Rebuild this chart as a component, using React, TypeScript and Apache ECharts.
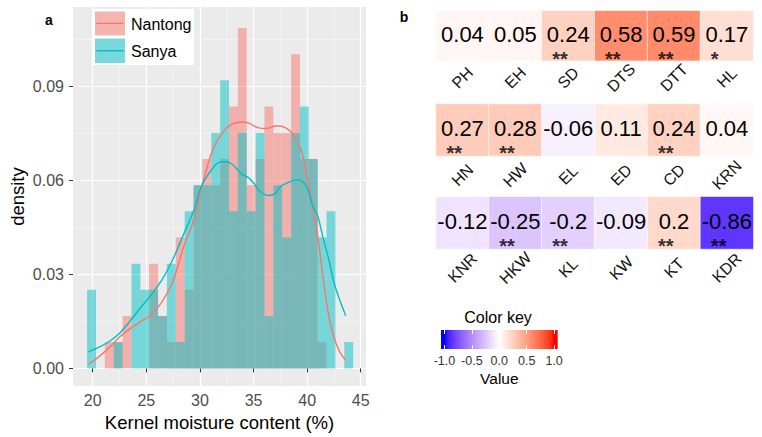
import React, { useEffect, useRef } from 'react';
import * as echarts from 'echarts';

const FONT = 'Liberation Sans, Arial, Helvetica, sans-serif';

// ---------- Panel a: histogram + density ----------
const binCenters = [19.89, 20.72, 21.54, 22.37, 23.2, 24.03, 24.85, 25.68, 26.51, 27.33, 28.16, 28.99, 29.82, 30.64, 31.47, 32.3, 33.13, 33.95, 34.78, 35.61, 36.43, 37.26, 38.09, 38.92, 39.74, 40.57, 41.4, 42.22, 43.05, 43.88];
const binWidth = 0.827;
const nantongHist = [0, 0, 0.0084, 0.0084, 0.0167, 0, 0, 0.0334, 0.0167, 0.0084, 0.0418, 0.0251, 0.0585, 0.0669, 0.0585, 0.0669, 0.0836, 0.1087, 0.0585, 0.0669, 0.0836, 0.0752, 0.0752, 0.1003, 0.0669, 0.0669, 0.0084, 0, 0, 0];
const sanyaHist = [0.0251, 0, 0, 0.0084, 0, 0.0334, 0.0251, 0.0251, 0.0167, 0.0334, 0.0084, 0.0502, 0.0585, 0.0585, 0.0752, 0.092, 0.0502, 0.0752, 0.0502, 0.0752, 0.0167, 0.0585, 0.0418, 0.0752, 0.0836, 0.0669, 0.0418, 0.0502, 0, 0.0084];

const curveX = [19.6, 20.5, 21.5, 22.5, 23.5, 24.5, 25.5, 26.5, 27.5, 28.5, 29.5, 30.0, 30.5, 31.0, 31.5, 32.0, 32.5, 33.0, 33.5, 34.0, 34.5, 35.0, 35.5, 36.0, 36.5, 37.0, 37.5, 38.0, 38.5, 39.0, 39.5, 40.0, 40.5, 41.0, 41.5, 42.0, 42.5, 43.0, 43.6];
const nantongCurve = [0.0013, 0.0035, 0.0065, 0.01, 0.0127, 0.015, 0.0172, 0.0215, 0.028, 0.039, 0.048, 0.056, 0.062, 0.068, 0.072, 0.0746, 0.0768, 0.078, 0.0785, 0.0787, 0.0784, 0.0775, 0.0768, 0.0766, 0.0768, 0.0774, 0.0774, 0.0768, 0.0755, 0.073, 0.069, 0.061, 0.052, 0.042, 0.0285, 0.017, 0.01, 0.0055, 0.0025];
const sanyaCurve = [0.0053, 0.0066, 0.0085, 0.0112, 0.0152, 0.0195, 0.0237, 0.0285, 0.035, 0.043, 0.051, 0.057, 0.0605, 0.063, 0.0652, 0.066, 0.066, 0.0652, 0.0635, 0.0618, 0.061, 0.0592, 0.0568, 0.0556, 0.0552, 0.0558, 0.058, 0.059, 0.0598, 0.0602, 0.0598, 0.0578, 0.052, 0.0485, 0.0415, 0.035, 0.0275, 0.0222, 0.0168];

const xTicks = [20, 25, 30, 35, 40, 45];
const xTickLabels = ['20', '25', '30', '35', '40', '45'];
const xMinor = [22.5, 27.5, 32.5, 37.5, 42.5];
const yTicks = [0, 0.03, 0.06, 0.09];
const yTickLabels = ['0.00', '0.03', '0.06', '0.09'];
const yMinor = [0.015, 0.045, 0.075, 0.105];

// ---------- Panel b: correlation tiles ----------
const row1Names = ['PH', 'EH', 'SD', 'DTS', 'DTT', 'HL'];
const row1Values = [0.04, 0.05, 0.24, 0.58, 0.59, 0.17];
const row1Sig = ['', '', '**', '**', '**', '*'];
const row2Names = ['HN', 'HW', 'EL', 'ED', 'CD', 'KRN'];
const row2Values = [0.27, 0.28, -0.06, 0.11, 0.24, 0.04];
const row2Sig = ['**', '**', '', '', '**', ''];
const row3Names = ['KNR', 'HKW', 'KL', 'KW', 'KT', 'KDR'];
const row3Values = [-0.12, -0.25, -0.2, -0.09, 0.2, -0.86];
const row3Sig = ['', '**', '**', '', '**', '**'];
const keyTicks = [-1, -0.5, 0, 0.5, 1];
const keyLabels = ['-1.0', '-0.5', '0.0', '0.5', '1.0'];

// ---------- Lab colour interpolation (ggplot gradient2 style) ----------
function lin(c: number) { c /= 255; return c <= 0.04045 ? c / 12.92 : Math.pow((c + 0.055) / 1.055, 2.4); }
function rgbToLab(rgb: number[]) {
  const R = lin(rgb[0]), G = lin(rgb[1]), B = lin(rgb[2]);
  const X = (0.4124 * R + 0.3576 * G + 0.1805 * B) / 0.95047;
  const Y = 0.2126 * R + 0.7152 * G + 0.0722 * B;
  const Z = (0.0193 * R + 0.1192 * G + 0.9505 * B) / 1.08883;
  const f = (t: number) => (t > 0.008856 ? Math.cbrt(t) : 7.787 * t + 16 / 116);
  const fx = f(X), fy = f(Y), fz = f(Z);
  return [116 * fy - 16, 500 * (fx - fy), 200 * (fy - fz)];
}
function labToHex(lab: number[]) {
  const fy = (lab[0] + 16) / 116, fx = fy + lab[1] / 500, fz = fy - lab[2] / 200;
  const finv = (t: number) => (t * t * t > 0.008856 ? t * t * t : (t - 16 / 116) / 7.787);
  const X = 0.95047 * finv(fx), Y = finv(fy), Z = 1.08883 * finv(fz);
  const r = 3.2406 * X - 1.5372 * Y - 0.4986 * Z;
  const g = -0.9689 * X + 1.8758 * Y + 0.0415 * Z;
  const b = 0.0557 * X - 0.204 * Y + 1.057 * Z;
  const gam = (c: number) => {
    c = Math.max(0, Math.min(1, c));
    const v = c <= 0.0031308 ? 12.92 * c : 1.055 * Math.pow(c, 1 / 2.4) - 0.055;
    return Math.round(Math.max(0, Math.min(1, v)) * 255);
  };
  return '#' + [gam(r), gam(g), gam(b)].map((v) => v.toString(16).padStart(2, '0')).join('');
}
const LAB_BLUE = rgbToLab([0, 0, 255]);
const LAB_WHITE = rgbToLab([255, 255, 255]);
const LAB_RED = rgbToLab([255, 0, 0]);
function valueColor(v: number) {
  const end = v < 0 ? LAB_BLUE : LAB_RED;
  const t = Math.min(1, Math.abs(v));
  return labToHex([0, 1, 2].map((i) => LAB_WHITE[i] + t * (end[i] - LAB_WHITE[i])));
}
const colorSteps: number[] = [];
for (let i = 0; i <= 40; i++) colorSteps.push(-1 + i * 0.05);
const colorStops = colorSteps.map(valueColor);

function tickFormatter(ticks: number[], labels: string[]) {
  return (v: number) => {
    const i = ticks.findIndex((t) => Math.abs(t - v) < 1e-9);
    return i >= 0 ? labels[i] : '';
  };
}

function histSeries(name: string, dens: number[], color: string) {
  return {
    type: 'custom',
    name,
    xAxisIndex: 0,
    yAxisIndex: 0,
    clip: true,
    silent: true,
    data: binCenters.map((c, i) => [c, dens[i]]),
    encode: { x: 0, y: 1 },
    renderItem: (params: any, api: any) => {
      const x = api.value(0);
      const y = api.value(1);
      if (!(y > 0)) return null;
      const p0 = api.coord([x - binWidth / 2, y]);
      const p1 = api.coord([x + binWidth / 2, 0]);
      return {
        type: 'rect',
        shape: { x: p0[0], y: p0[1], width: p1[0] - p0[0], height: p1[1] - p0[1] },
        style: { fill: color, opacity: 0.5 },
      };
    },
  };
}

function lineSeries(name: string, ys: number[], color: string) {
  return {
    type: 'line',
    name,
    xAxisIndex: 0,
    yAxisIndex: 0,
    silent: true,
    smooth: 0.3,
    showSymbol: false,
    symbol: 'none',
    data: curveX.map((x, i) => [x, ys[i]]),
    lineStyle: { color, width: 1.4 },
    z: 5,
  };
}

const rowGrids = [
  { left: 436, top: 10.7, width: 317.3, height: 50 },
  { left: 436, top: 104, width: 317.3, height: 52 },
  { left: 436, top: 196.7, width: 317.3, height: 52.3 },
];
const rowLabelMargins = [17, 19, 19];
const rows = [
  { names: row1Names, values: row1Values, sig: row1Sig },
  { names: row2Names, values: row2Values, sig: row2Sig },
  { names: row3Names, values: row3Values, sig: row3Sig },
];

function buildOption() {
  const grids: any[] = [
    { left: 73, top: 7, width: 293, height: 385, show: true, backgroundColor: '#EBEBEB', borderWidth: 0 },
    ...rowGrids.map((g) => ({ ...g, show: false })),
    { left: 441, top: 330, width: 116.7, height: 19, show: false },
  ];

  const xAxes: any[] = [
    {
      type: 'value', gridIndex: 0, min: 18.16, max: 45.49,
      axisLine: { show: false },
      axisTick: { show: true, customValues: xTicks, length: 4, lineStyle: { color: '#333', width: 1 } },
      axisLabel: { customValues: xTicks, formatter: tickFormatter(xTicks, xTickLabels), margin: 6, fontSize: 16, color: '#4D4D4D', fontFamily: FONT },
      splitLine: { show: true, lineStyle: { color: '#FFFFFF', width: 1.2 } },
      name: 'Kernel moisture content (%)', nameLocation: 'middle', nameGap: 12,
      nameTextStyle: { fontSize: 18.5, color: '#000', fontFamily: FONT },
    },
    {
      type: 'value', gridIndex: 0, min: 18.16, max: 45.49, position: 'top',
      axisLine: { show: false },
      axisTick: { show: false, customValues: xMinor },
      axisLabel: { show: false, customValues: xMinor },
      splitLine: { show: true, lineStyle: { color: '#F7F7F7', width: 0.6 } },
    },
  ];
  const yAxes: any[] = [
    {
      type: 'value', gridIndex: 0, min: -0.00566, max: 0.1154,
      axisLine: { show: false },
      axisTick: { show: true, customValues: yTicks, length: 4, lineStyle: { color: '#333', width: 1 } },
      axisLabel: { customValues: yTicks, formatter: tickFormatter(yTicks, yTickLabels), margin: 9, fontSize: 16, color: '#4D4D4D', fontFamily: FONT },
      splitLine: { show: true, lineStyle: { color: '#FFFFFF', width: 1.2 } },
      name: 'density', nameLocation: 'middle', nameGap: 46,
      nameTextStyle: { fontSize: 18.5, color: '#000', fontFamily: FONT },
    },
    {
      type: 'value', gridIndex: 0, min: -0.00566, max: 0.1154, position: 'right',
      axisLine: { show: false },
      axisTick: { show: false, customValues: yMinor },
      axisLabel: { show: false, customValues: yMinor },
      splitLine: { show: true, lineStyle: { color: '#F7F7F7', width: 0.6 } },
    },
  ];

  rows.forEach((r, i) => {
    xAxes.push({
      type: 'category', gridIndex: i + 1, data: r.names,
      axisLine: { show: false }, axisTick: { show: false }, splitLine: { show: false },
      axisLabel: { interval: 0, rotate: 45, align: 'center', margin: rowLabelMargins[i], fontSize: 16, color: '#111', fontFamily: FONT },
    });
    yAxes.push({ type: 'category', gridIndex: i + 1, data: ['r'], show: false });
  });

  // colour key axes
  xAxes.push({
    type: 'value', gridIndex: 4, min: -1.063, max: 1.065, z: 10,
    axisLine: { show: false },
    axisTick: { show: true, inside: true, customValues: keyTicks, length: 4, lineStyle: { color: '#FFFFFF', width: 1 } },
    axisLabel: { customValues: keyTicks, formatter: tickFormatter(keyTicks, keyLabels), margin: 5, fontSize: 12.5, color: '#333', fontFamily: FONT },
    splitLine: { show: false },
    name: 'Value', nameLocation: 'middle', nameGap: 21,
    nameTextStyle: { fontSize: 15.5, color: '#000', fontFamily: FONT },
  });
  xAxes.push({
    type: 'value', gridIndex: 4, min: -1.063, max: 1.065, position: 'top', z: 10,
    axisLine: { show: false },
    axisTick: { show: true, inside: true, customValues: keyTicks, length: 4, lineStyle: { color: '#FFFFFF', width: 1 } },
    axisLabel: { show: false, customValues: keyTicks },
    splitLine: { show: false },
  });
  yAxes.push({ type: 'value', gridIndex: 4, min: 0, max: 1, show: false });

  const series: any[] = [
    histSeries('Nantong', nantongHist, '#F8766D'),
    histSeries('Sanya', sanyaHist, '#00BFC4'),
    lineSeries('Nantong density', nantongCurve, '#F8766D'),
    lineSeries('Sanya density', sanyaCurve, '#00BFC4'),
  ];
  const heatIdx: number[] = [];
  rows.forEach((r, i) => {
    heatIdx.push(series.length);
    series.push({
      type: 'heatmap', xAxisIndex: i + 2, yAxisIndex: i + 2, silent: true,
      data: r.values.map((v, j) => [j, 0, v]),
      itemStyle: { borderColor: '#FFFFFF', borderWidth: 0.6 },
      label: {
        show: true, fontSize: 22, lineHeight: 22, color: '#000', fontFamily: FONT, offset: [0, -1.5],
        formatter: (p: any) => String(p.value[2]),
      },
    });
  });
  rows.forEach((r, i) => {
    series.push({
      type: 'scatter', xAxisIndex: i + 2, yAxisIndex: i + 2, silent: true,
      symbol: 'circle', symbolSize: 2, itemStyle: { color: 'rgba(0,0,0,0)' }, z: 6,
      data: r.sig.map((s, j) => ({ value: [j, 0], name: s })).filter((d) => d.name),
      label: {
        show: true, position: 'inside', formatter: (p: any) => p.name,
        align: 'left', verticalAlign: 'middle', offset: [-16, 23], lineHeight: 12,
        fontSize: 20, fontWeight: 'bold', color: '#000', fontFamily: FONT,
      },
    });
  });
  series.push({
    type: 'custom', xAxisIndex: 6, yAxisIndex: 5, silent: true,
    data: [[0, 0.5]],
    renderItem: (params: any, api: any) => {
      const cs = params.coordSys;
      const stops = colorSteps.map((v, k) => ({
        offset: Math.max(0, Math.min(1, (api.coord([v, 0.5])[0] - cs.x) / cs.width)),
        color: colorStops[k],
      }));
      return {
        type: 'rect',
        shape: { x: cs.x, y: cs.y, width: cs.width, height: cs.height },
        style: { fill: new echarts.graphic.LinearGradient(0, 0, 1, 0, stops) },
      };
    },
  });

  const graphic: any[] = [
    { type: 'text', x: 49, y: 19.5, z: 100, style: { text: 'a', fontSize: 14, fontWeight: 'bold', fontFamily: FONT, fill: '#000', align: 'center', verticalAlign: 'middle' } },
    { type: 'text', x: 404, y: 17, z: 100, style: { text: 'b', fontSize: 14, fontWeight: 'bold', fontFamily: FONT, fill: '#000', align: 'center', verticalAlign: 'middle' } },
    // legend
    { type: 'rect', z: 100, shape: { x: 93, y: 9, width: 101, height: 56 }, style: { fill: '#FFFFFF' } },
    { type: 'rect', z: 101, shape: { x: 95, y: 11.5, width: 30, height: 24 }, style: { fill: '#F5B5AF' } },
    { type: 'line', z: 102, shape: { x1: 96.5, y1: 23.4, x2: 123.5, y2: 23.4 }, style: { stroke: '#F8766D', lineWidth: 1.4 } },
    { type: 'rect', z: 101, shape: { x: 95, y: 38.5, width: 30, height: 24.5 }, style: { fill: '#79D8DB' } },
    { type: 'line', z: 102, shape: { x1: 96.5, y1: 50.7, x2: 123.5, y2: 50.7 }, style: { stroke: '#00BFC4', lineWidth: 1.4 } },
    { type: 'text', x: 131, y: 24, z: 102, style: { text: 'Nantong', fontSize: 16, fontFamily: FONT, fill: '#000', align: 'left', verticalAlign: 'middle' } },
    { type: 'text', x: 131, y: 51, z: 102, style: { text: 'Sanya', fontSize: 16, fontFamily: FONT, fill: '#000', align: 'left', verticalAlign: 'middle' } },
    // colour key title
    { type: 'text', x: 498, y: 317, z: 100, style: { text: 'Color key', fontSize: 16, fontFamily: FONT, fill: '#000', align: 'center', verticalAlign: 'middle' } },
  ];

  return {
    animation: false,
    backgroundColor: '#FFFFFF',
    textStyle: { fontFamily: FONT },
    grid: grids,
    xAxis: xAxes,
    yAxis: yAxes,
    visualMap: {
      type: 'continuous', show: false, min: -1, max: 1, dimension: 2,
      seriesIndex: heatIdx, inRange: { color: colorStops },
    },
    series,
    graphic,
  };
}

export default function App() {
  const ref = useRef<HTMLDivElement>(null);
  useEffect(() => {
    document.body.style.margin = '0';
    const chart = echarts.init(ref.current as HTMLDivElement, null, { renderer: 'svg' });
    chart.setOption(buildOption() as any);
    return () => chart.dispose();
  }, []);
  return <div ref={ref} style={{ width: 762, height: 437, background: '#FFFFFF' }} />;
}
